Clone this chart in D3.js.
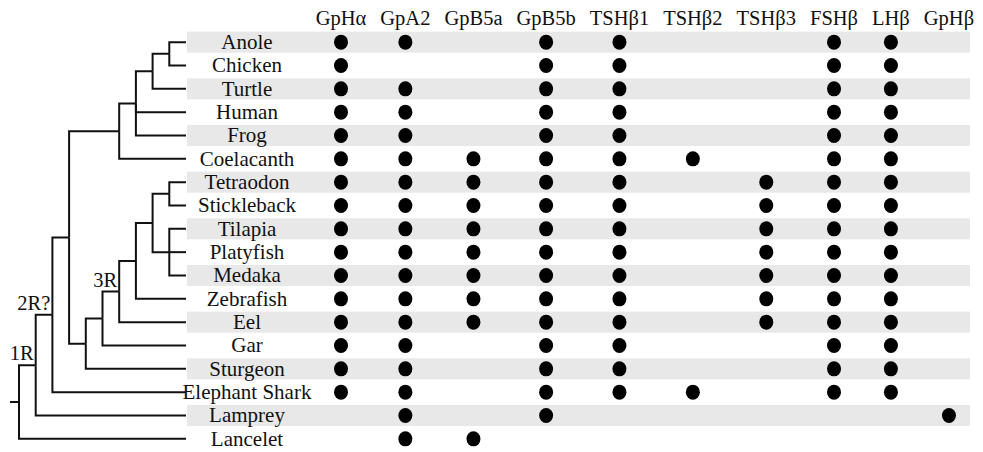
<!DOCTYPE html>
<html>
<head>
<meta charset="utf-8">
<script src="https://cdn.jsdelivr.net/npm/d3@7"></script>
<style>
body { margin: 0; background: #fff; }
text { font-family: 'Liberation Serif', 'Times New Roman', serif; fill: #111; }
</style>
</head>
<body>
<div id="chart"></div>
<script>
var genes = ['GpHα', 'GpA2', 'GpB5a', 'GpB5b', 'TSHβ1', 'TSHβ2', 'TSHβ3', 'FSHβ', 'LHβ', 'GpHβ'];

var species = ['Anole', 'Chicken', 'Turtle', 'Human', 'Frog', 'Coelacanth', 'Tetraodon',
    'Stickleback', 'Tilapia', 'Platyfish', 'Medaka', 'Zebrafish', 'Eel', 'Gar', 'Sturgeon',
    'Elephant Shark', 'Lamprey', 'Lancelet'];

// 1 = gene found, same order as genes
var presence = [
    [1, 1, 0, 1, 1, 0, 0, 1, 1, 0], // Anole
    [1, 0, 0, 1, 1, 0, 0, 1, 1, 0], // Chicken
    [1, 1, 0, 1, 1, 0, 0, 1, 1, 0], // Turtle
    [1, 1, 0, 1, 1, 0, 0, 1, 1, 0], // Human
    [1, 1, 0, 1, 1, 0, 0, 1, 1, 0], // Frog
    [1, 1, 1, 1, 1, 1, 0, 1, 1, 0], // Coelacanth
    [1, 1, 1, 1, 1, 0, 1, 1, 1, 0], // Tetraodon
    [1, 1, 1, 1, 1, 0, 1, 1, 1, 0], // Stickleback
    [1, 1, 1, 1, 1, 0, 1, 1, 1, 0], // Tilapia
    [1, 1, 1, 1, 1, 0, 1, 1, 1, 0], // Platyfish
    [1, 1, 1, 1, 1, 0, 1, 1, 1, 0], // Medaka
    [1, 1, 1, 1, 1, 0, 1, 1, 1, 0], // Zebrafish
    [1, 1, 1, 1, 1, 0, 1, 1, 1, 0], // Eel
    [1, 1, 0, 1, 1, 0, 0, 1, 1, 0], // Gar
    [1, 1, 0, 1, 1, 0, 0, 1, 1, 0], // Sturgeon
    [1, 1, 0, 1, 1, 1, 0, 1, 1, 0], // Elephant Shark
    [0, 1, 0, 1, 0, 0, 0, 0, 0, 1], // Lamprey
    [0, 1, 1, 0, 0, 0, 0, 0, 0, 0]  // Lancelet
];

// species tree, leaves top to bottom
var tree = { children: [
    { label: '1R', children: [
        { label: '2R?', children: [
            { children: [
                { children: [
                    { children: [
                        { children: [{ children: ['Anole', 'Chicken'] }, 'Turtle'] },
                        'Human', 'Frog'] },
                    'Coelacanth'] },
                { children: [
                    { children: [
                        { label: '3R', children: [
                            { children: [
                                { children: [
                                    { children: ['Tetraodon', 'Stickleback'] },
                                    { children: ['Tilapia', 'Platyfish', 'Medaka'] }] },
                                'Zebrafish'] },
                            'Eel'] },
                        'Gar'] },
                    'Sturgeon'] }] },
            'Elephant Shark'] },
        'Lamprey'] },
    'Lancelet'] };

var width = 983, height = 452;

var svg = d3.select('#chart').append('svg')
    .attr('width', width)
    .attr('height', height);

// rows
var y = d3.scaleBand()
    .domain(species)
    .range([30.5, 450.5]);

var rowY = function (s) { return y(s) + y.bandwidth() / 2; };

svg.selectAll('.band')
    .data(species.filter((d, i) => i % 2 === 0))
    .enter()
    .append('rect')
    .attr('class', 'band')
    .attr('x', 187)
    .attr('width', 783)
    .attr('y', d => rowY(d) - 10.5)
    .attr('height', 21)
    .attr('fill', '#e8e8e8');

// header, columns laid out by text width
var header = svg.selectAll('.gene')
    .data(genes)
    .enter()
    .append('text')
    .attr('class', 'gene')
    .attr('y', 25)
    .style('font-size', '20.5px')
    .attr('text-anchor', 'middle')
    .text(d => d);

var widths = [];
header.each(function () { widths.push(this.getComputedTextLength()); });

var gap = 14, colX = {}, cx = 341;
genes.forEach((g, i) => {
    if (i > 0) cx += (widths[i - 1] + widths[i]) / 2 + gap;
    colX[g] = cx;
});
header.attr('x', d => colX[d]);

// dots
var cells = [];
species.forEach((s, i) => {
    genes.forEach((g, j) => {
        if (presence[i][j]) cells.push({ species: s, gene: g });
    });
});

svg.selectAll('.dot')
    .data(cells)
    .enter()
    .append('ellipse')
    .attr('class', 'dot')
    .attr('cx', d => colX[d.gene])
    .attr('cy', d => rowY(d.species))
    .attr('rx', 7)
    .attr('ry', 7.5)
    .attr('fill', '#000');

// species labels
svg.selectAll('.name')
    .data(species)
    .enter()
    .append('text')
    .attr('class', 'name')
    .attr('x', 247)
    .attr('y', d => rowY(d))
    .attr('dy', '0.33em')
    .attr('text-anchor', 'middle')
    .style('font-size', '21px')
    .text(d => d);

// tree
var root = d3.hierarchy(tree, d => typeof d === 'string' ? null : d.children);
d3.cluster().nodeSize([1, 1]).separation(() => 1)(root);

var leaves = root.leaves();
var offset = leaves[0].x;
// put parents midway between first and last child
root.eachAfter(n => {
    if (n.children) n.x = (n.children[0].x + n.children[n.children.length - 1].x) / 2;
});

var ty = d3.scaleLinear()
    .domain([0, species.length - 1])
    .range([rowY(species[0]), rowY(species[species.length - 1])]);
var tx = d3.scaleLinear()
    .domain([0, root.height])
    .range([19, 186]);

var px = n => tx(n.y), py = n => ty(n.x - offset);

svg.selectAll('.link')
    .data(root.links())
    .enter()
    .append('path')
    .attr('class', 'link')
    .attr('d', d => 'M' + px(d.source) + ',' + py(d.source) +
        'V' + py(d.target) + 'H' + px(d.target))
    .attr('fill', 'none')
    .attr('stroke', '#111')
    .attr('stroke-width', 2);

svg.append('path')
    .attr('d', 'M10,' + py(root) + 'H' + px(root))
    .attr('stroke', '#111')
    .attr('stroke-width', 2);

svg.selectAll('.dup')
    .data(root.descendants().filter(n => n.data.label))
    .enter()
    .append('text')
    .attr('class', 'dup')
    .attr('x', d => px(d) - 2)
    .attr('y', d => py(d) - 5)
    .attr('text-anchor', 'end')
    .style('font-size', '20.5px')
    .text(d => d.data.label);
</script>
</body>
</html>
